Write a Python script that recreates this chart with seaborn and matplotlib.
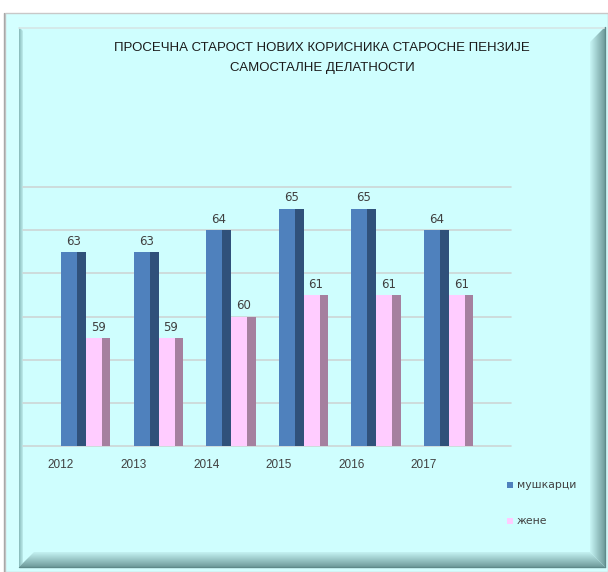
import numpy as np
import pandas as pd
import matplotlib.pyplot as plt
import seaborn as sns
from matplotlib.patches import Rectangle, Polygon
from matplotlib.colors import LinearSegmentedColormap

# data
years = ["2012", "2013", "2014", "2015", "2016", "2017"]
men = [63, 63, 64, 65, 65, 64]
women = [59, 59, 60, 61, 61, 61]
series_names = ["мушкарци", "жене"]
title_lines = ["ПРОСЕЧНА СТАРОСТ НОВИХ КОРИСНИКА СТАРОСНЕ ПЕНЗИЈЕ",
               "САМОСТАЛНЕ ДЕЛАТНОСТИ"]

W, H = 608, 572
MEN_C, MEN_SIDE = "#4f81bd", "#30517a"
WOM_C, WOM_SIDE = "#ffccff", "#a5809f"
TXT = "#404040"

sns.set_theme(style="white")
plt.rcParams["font.family"] = ["DejaVu Sans"]

fig = plt.figure(figsize=(W / 100, H / 100), dpi=100)
fig.patch.set_facecolor("white")

# background panel with a bevelled frame, drawn in pixel coordinates
bg = fig.add_axes([0, 0, 1, 1], zorder=0)
bg.axis("off")


def gradient(ax, poly, extent, c0, c1, horizontal):
    cmap = LinearSegmentedColormap.from_list("g", [c0, c1])
    g = np.linspace(0, 1, 64)
    arr = g[None, :] if horizontal else g[:, None]
    im = ax.imshow(arr, cmap=cmap, extent=extent, aspect="auto",
                   origin="upper", interpolation="bilinear", zorder=3)
    patch = Polygon(poly, closed=True, facecolor="none", edgecolor="none")
    ax.add_patch(patch)
    im.set_clip_path(patch)


bg.plot([3.5, 3.5], [13, H], color="#a8a8a8", lw=1)
bg.add_patch(Rectangle((5, 13), W - 5, H - 13, facecolor="#d4ffff",
                       edgecolor="#c8c8c8", lw=1, zorder=1))
bg.add_patch(Rectangle((19, 27), 586, 540, facecolor="#cffefe",
                       edgecolor="none", zorder=2))
gradient(bg, [(19, 27), (23, 31), (23, 563), (19, 567)], (19, 23, 567, 27),
         "#86b8b8", "#bfeeee", True)
gradient(bg, [(605, 27), (590, 42), (590, 552), (605, 567)], (590, 605, 567, 27),
         "#c8f6f6", "#6f9c9c", True)
gradient(bg, [(19, 567), (34, 552), (590, 552), (605, 567)], (19, 605, 567, 552),
         "#c4f2f2", "#6f9c9c", False)
bg.plot([19, 605], [27.5, 27.5], color="#d6e6e6", lw=1.2, zorder=4)
bg.plot([19, 605], [566.5, 566.5], color="#5f8a8a", lw=1, zorder=4)
bg.plot([604.5, 604.5], [27, 567], color="#5f8a8a", lw=1, zorder=4)

# legend
for k, (name, c) in enumerate(zip(series_names, [MEN_C, WOM_C])):
    y = 485 + k * 35.5
    bg.add_patch(Rectangle((507, y - 3), 6, 6, facecolor=c, edgecolor="none",
                           zorder=5))
    bg.text(517, y, name, va="center", ha="left", fontsize=7.8, color=TXT,
            zorder=5)

bg.set_xlim(0, W)
bg.set_ylim(H, 0)

# title
fig.text(322 / W, 1 - 48 / H, title_lines[0], ha="center", va="center",
         fontsize=9.5, family="Liberation Sans", color="#1a1a1a")
fig.text(322 / W, 1 - 68 / H, title_lines[1], ha="center", va="center",
         fontsize=9.5, family="Liberation Sans", color="#1a1a1a")

# chart area
ax = fig.add_axes([23 / W, 1 - 446 / H, 488 / W, 259 / H], zorder=1)
ax.patch.set_alpha(0)

idx = np.arange(len(years))
parts = [
    (men, 0.0, 0.22, MEN_C),
    (men, 0.22, 0.124, MEN_SIDE),
    (women, 0.344, 0.22, WOM_C),
    (women, 0.564, 0.117, WOM_SIDE),
]
for vals, off, w, c in parts:
    df = pd.DataFrame({"pos": idx + off + w / 2, "value": vals})
    sns.barplot(data=df, x="pos", y="value", native_scale=True, width=w,
                color=c, saturation=1, errorbar=None, linewidth=0, ax=ax)

for i, v in enumerate(men):
    ax.annotate(str(v), (i + 0.172, v), xytext=(0, 3), textcoords="offset points",
                ha="center", va="bottom", fontsize=8.5, color=TXT)
for i, v in enumerate(women):
    ax.annotate(str(v), (i + 0.5125, v), xytext=(0, 3), textcoords="offset points",
                ha="center", va="bottom", fontsize=8.5, color=TXT)

ax.set_xlim((23 - 61) / 72.6, (511 - 61) / 72.6)
ax.set_ylim(54, 66)
ax.set_yticks(np.arange(54, 67, 2))
ax.set_xticks(idx, years)
ax.set_xlabel("")
ax.set_ylabel("")
ax.set_axisbelow(True)
ax.yaxis.grid(True, color="#cdd6d6", lw=1.2)
for gl in ax.get_ygridlines():
    gl.set_clip_on(False)
ax.tick_params(axis="y", left=False, labelleft=False)
ax.tick_params(axis="x", length=0, pad=9, labelsize=8.5, labelcolor=TXT)
for lab in ax.get_xticklabels():
    lab.set_family("Liberation Sans")
sns.despine(ax=ax, left=True, bottom=True)

fig.savefig("out.png", dpi=100)
